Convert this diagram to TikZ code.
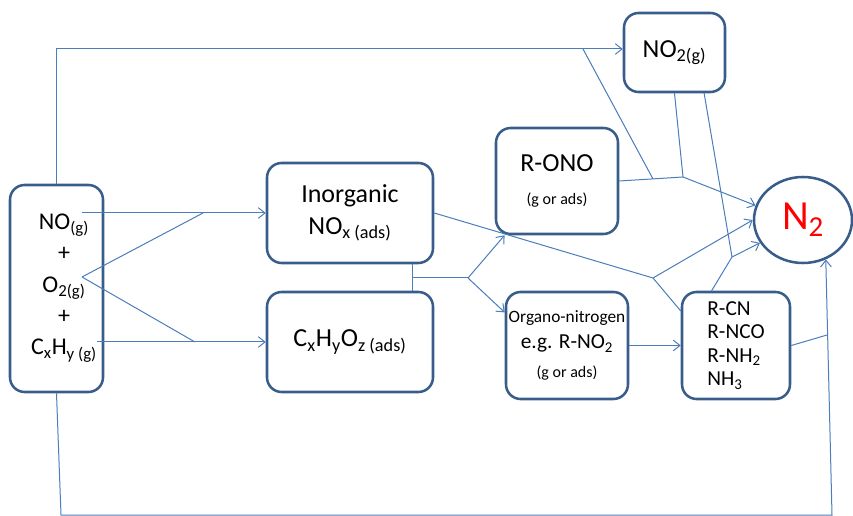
\documentclass[tikz,border=0pt]{standalone}
\usepackage{fontspec}
\setmainfont{Carlito}
\usetikzlibrary{arrows.meta,shapes.geometric}
\definecolor{edgeblue}{HTML}{385D8A}
\definecolor{linkblue}{HTML}{4A7EBB}
\newcommand\lo[1]{\textsubscript{#1}}

\begin{document}
\begin{tikzpicture}[x=0.75pt, y=-0.75pt,
    box/.style={draw=edgeblue, line width=1.9pt, rounded corners=11pt, align=center, inner sep=0pt},
    big/.style={font=\fontsize{19.5}{24}\selectfont},
    link/.style={draw=linkblue, line width=0.75pt},
    arr/.style={link, -{Straight Barb[length=5pt,width=8pt]}}
]

\useasboundingbox (0,0) rectangle (853,516);

\node[box, minimum width=69.75pt, minimum height=155.25pt] (src) at (56.5,288.5) {};
\node[align=center, font=\fontsize{18}{23.5}\selectfont] (srctxt) at (64,288) {NO\lo{(g)}\\+\\O\lo{2(g)}\\+\\C\lo{x}H\lo{y (g)}};

\node[box, big, minimum width=124.5pt, minimum height=75pt] (inorg) at (350,213) {Inorganic\\NO\lo{x (ads)}};
\node[box, big, minimum width=124.5pt, minimum height=75pt] (cxh) at (350,342) {C\lo{x}H\lo{y}O\lo{z (ads)}};
\node[box, big, minimum width=91.5pt, minimum height=79.5pt] (rono) at (557,181) {R-ONO\\[1pt]{\fontsize{12}{14}\selectfont (g or ads)}};
\node[box, big, minimum width=75.75pt, minimum height=59.25pt] (no2) at (674.5,52.5) {NO\lo{2(g)}};
\node[box, font=\fontsize{16}{19.5}\selectfont, minimum width=91.5pt, minimum height=80.25pt] (org) at (567,345.5) {{\fontsize{13}{14}\selectfont Organo-nitrogen}\\e.g. R-NO\lo{2}\\[2pt]{\fontsize{12}{14}\selectfont (g or ads)}};
\node[box, align=left, font=\fontsize{16}{17.6}\selectfont, minimum width=81pt, minimum height=80.25pt] (rcn) at (736,345.5) {R-CN\\R-NCO\\R-NH\lo{2}\\NH\lo{3}};
\node[ellipse, draw=edgeblue, line width=1.9pt, minimum width=73.5pt, minimum height=64.5pt, inner sep=0pt, text=red, font=\fontsize{31}{34}\selectfont] (n2) at (803,220) {N\lo{2}};

\coordinate (s1) at (82,213);
\coordinate (s2) at (82,277);
\coordinate (s3) at (97,342);
\coordinate (jg) at (203,213);
\coordinate (jh) at (195,342);
\coordinate (jf) at (412,278);
\coordinate (je) at (468,278);
\coordinate (jd) at (653,278);
\coordinate (tl) at (56.5,49);
\coordinate (jt) at (583,49);
\coordinate (ja) at (653,179);
\coordinate (jb) at (683,177);
\coordinate (jc) at (732,257);
\coordinate (bl) at (61,515);
\coordinate (br) at (832,515);
\coordinate (jr) at (827,335);

\draw[arr] (s1) -- (inorg.west);
\draw[link] (s2) -- (jg);
\draw[link] (s2) -- (jh);
\draw[arr] (s3) -- (cxh.west);

\draw[link] (inorg.south -| jf) -- (cxh.north -| jf);
\draw[link] (jf) -- (je);
\draw[arr] (je) -- (rono.226);
\draw[arr] (je) -- (org.152);

\draw[link] (inorg.east) -- (jd) -- (rcn.148);
\draw[arr] (jd) -- (n2.180);

\draw[link] (rono.east) -- (jb);
\draw[link] (jt) -- (ja);
\draw[link] (no2.south) -- (jb);
\draw[arr] (jb) -- (n2.163);

\draw[link] (no2.-54) -- (jc);
\draw[link] (rcn.114) -- (jc);
\draw[arr] (jc) -- (n2.208);

\draw[arr] (org.east) -- (rcn.west);
\draw[link] (rcn.east) -- (jr);

\draw[arr] (src.north) -- (tl) -- (tl -| no2.west);
\draw[arr] (src.south) -- (bl) -- (br) -- (n2.300);

\end{tikzpicture}
\end{document}
